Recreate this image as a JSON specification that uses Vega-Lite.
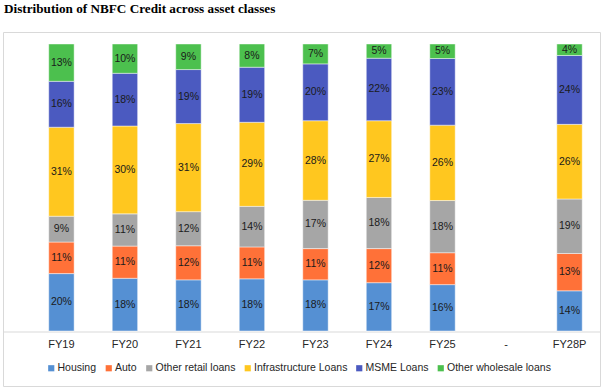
{
  "$schema": "https://vega.github.io/schema/vega-lite/v6.json",
  "autosize": "none",
  "width": 597,
  "height": 354,
  "padding": {"left": 3, "top": 32, "right": 4, "bottom": 4},
  "background": "white",
  "title": {
    "text": "Distribution of NBFC Credit across asset classes",
    "anchor": "start",
    "frame": "group",
    "font": "Liberation Serif",
    "fontSize": 13.2,
    "fontWeight": "bold",
    "color": "#000000",
    "baseline": "alphabetic",
    "offset": 5.5,
    "dx": 1
  },
  "config": {
    "view": {"stroke": "#d9d9d9", "strokeWidth": 1},
    "font": "Liberation Sans"
  },
  "data": {
    "values": [
      {"year": "FY19", "cls": "Housing", "v": 20},
      {"year": "FY19", "cls": "Auto", "v": 11},
      {"year": "FY19", "cls": "Other retail loans", "v": 9},
      {"year": "FY19", "cls": "Infrastructure Loans", "v": 31},
      {"year": "FY19", "cls": "MSME Loans", "v": 16},
      {"year": "FY19", "cls": "Other wholesale loans", "v": 13},
      {"year": "FY20", "cls": "Housing", "v": 18},
      {"year": "FY20", "cls": "Auto", "v": 11},
      {"year": "FY20", "cls": "Other retail loans", "v": 11},
      {"year": "FY20", "cls": "Infrastructure Loans", "v": 30},
      {"year": "FY20", "cls": "MSME Loans", "v": 18},
      {"year": "FY20", "cls": "Other wholesale loans", "v": 10},
      {"year": "FY21", "cls": "Housing", "v": 18},
      {"year": "FY21", "cls": "Auto", "v": 12},
      {"year": "FY21", "cls": "Other retail loans", "v": 12},
      {"year": "FY21", "cls": "Infrastructure Loans", "v": 31},
      {"year": "FY21", "cls": "MSME Loans", "v": 19},
      {"year": "FY21", "cls": "Other wholesale loans", "v": 9},
      {"year": "FY22", "cls": "Housing", "v": 18},
      {"year": "FY22", "cls": "Auto", "v": 11},
      {"year": "FY22", "cls": "Other retail loans", "v": 14},
      {"year": "FY22", "cls": "Infrastructure Loans", "v": 29},
      {"year": "FY22", "cls": "MSME Loans", "v": 19},
      {"year": "FY22", "cls": "Other wholesale loans", "v": 8},
      {"year": "FY23", "cls": "Housing", "v": 18},
      {"year": "FY23", "cls": "Auto", "v": 11},
      {"year": "FY23", "cls": "Other retail loans", "v": 17},
      {"year": "FY23", "cls": "Infrastructure Loans", "v": 28},
      {"year": "FY23", "cls": "MSME Loans", "v": 20},
      {"year": "FY23", "cls": "Other wholesale loans", "v": 7},
      {"year": "FY24", "cls": "Housing", "v": 17},
      {"year": "FY24", "cls": "Auto", "v": 12},
      {"year": "FY24", "cls": "Other retail loans", "v": 18},
      {"year": "FY24", "cls": "Infrastructure Loans", "v": 27},
      {"year": "FY24", "cls": "MSME Loans", "v": 22},
      {"year": "FY24", "cls": "Other wholesale loans", "v": 5},
      {"year": "FY25", "cls": "Housing", "v": 16},
      {"year": "FY25", "cls": "Auto", "v": 11},
      {"year": "FY25", "cls": "Other retail loans", "v": 18},
      {"year": "FY25", "cls": "Infrastructure Loans", "v": 26},
      {"year": "FY25", "cls": "MSME Loans", "v": 23},
      {"year": "FY25", "cls": "Other wholesale loans", "v": 5},
      {"year": "FY28P", "cls": "Housing", "v": 14},
      {"year": "FY28P", "cls": "Auto", "v": 13},
      {"year": "FY28P", "cls": "Other retail loans", "v": 19},
      {"year": "FY28P", "cls": "Infrastructure Loans", "v": 26},
      {"year": "FY28P", "cls": "MSME Loans", "v": 24},
      {"year": "FY28P", "cls": "Other wholesale loans", "v": 4}
    ]
  },
  "transform": [
    {"calculate": "indexof(['Housing','Auto','Other retail loans','Infrastructure Loans','MSME Loans','Other wholesale loans'], datum.cls)", "as": "k"},
    {"stack": "v", "groupby": ["year"], "sort": [{"field": "k", "order": "ascending"}], "offset": "normalize", "as": ["s0", "s1"]},
    {"calculate": "(datum.s0 + datum.s1) / 2", "as": "mid"},
    {"calculate": "datum.v + '%'", "as": "lab"}
  ],
  "encoding": {
    "x": {
      "field": "year",
      "type": "nominal",
      "scale": {
        "domain": ["FY19", "FY20", "FY21", "FY22", "FY23", "FY24", "FY25", "-", "FY28P"],
        "paddingInner": 0.6,
        "paddingOuter": 0.5,
        "align": 0.72
      },
      "axis": {
        "title": null,
        "orient": "bottom",
        "offset": -54.5,
        "labelAngle": 0,
        "ticks": false,
        "labelPadding": 7,
        "labelFontSize": 11,
        "labelColor": "#262626",
        "labelFont": "Liberation Sans",
        "domainColor": "#d9d9d9",
        "domainWidth": 1,
        "grid": false
      }
    }
  },
  "layer": [
    {
      "mark": {"type": "bar", "stroke": "#ffffff", "strokeOpacity": 0.45, "strokeWidth": 1},
      "encoding": {
        "y": {
          "field": "s0",
          "type": "quantitative",
          "scale": {"domain": [-0.1916, 1.0418], "nice": false, "zero": false},
          "axis": null
        },
        "y2": {"field": "s1"},
        "color": {
          "field": "cls",
          "type": "nominal",
          "scale": {
            "domain": ["Housing", "Auto", "Other retail loans", "Infrastructure Loans", "MSME Loans", "Other wholesale loans"],
            "range": ["#5590D3", "#FF7138", "#A6A6A6", "#FFC71F", "#4B5AC0", "#4CC04E"]
          },
          "legend": {
            "title": null,
            "orient": "none",
            "direction": "horizontal",
            "legendX": 43,
            "legendY": 331,
            "padding": 0,
            "gridAlign": "none",
            "symbolType": "square",
            "symbolSize": 38,
            "symbolStrokeWidth": 0,
            "labelOffset": 1,
            "columnPadding": 6.5,
            "labelFontSize": 10.5,
            "labelFont": "Liberation Sans",
            "labelColor": "#262626"
          }
        }
      }
    },
    {
      "mark": {"type": "text", "fontSize": 10.5, "font": "Liberation Sans", "color": "#1a1a1a", "baseline": "middle"},
      "encoding": {
        "y": {"field": "mid", "type": "quantitative"},
        "text": {"field": "lab"}
      }
    }
  ]
}
